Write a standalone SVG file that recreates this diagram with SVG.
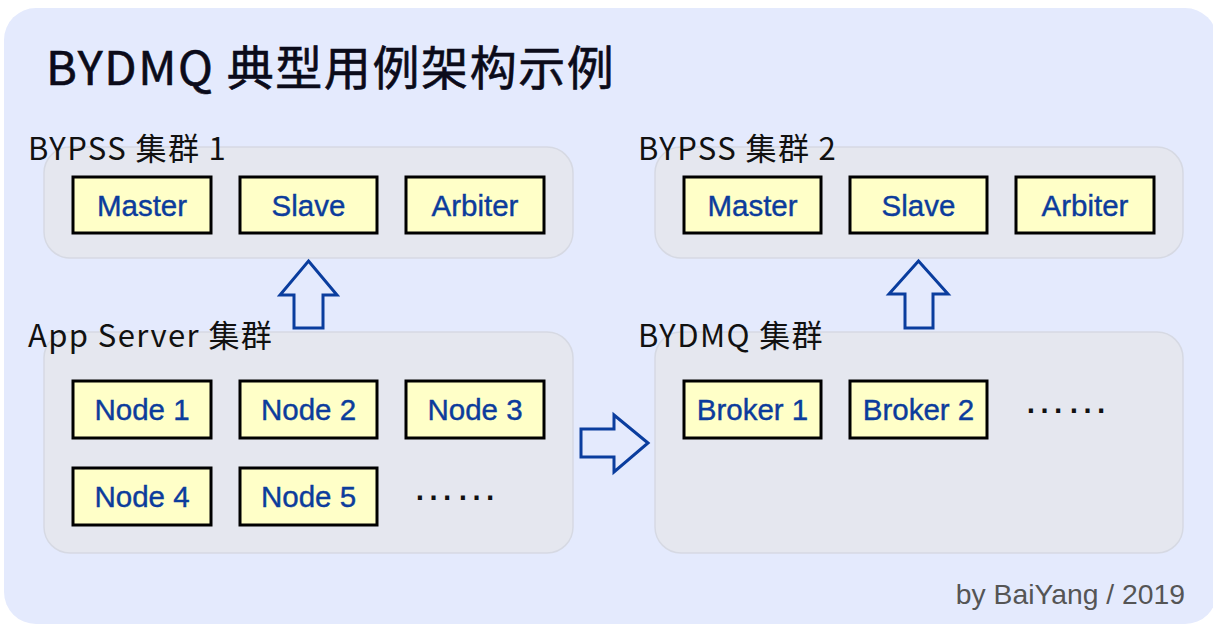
<svg xmlns="http://www.w3.org/2000/svg" width="1213" height="624" viewBox="0 0 1213 624">
<style>
.bg{fill:#e4eafd}
.panel{fill:#e5e7ef;stroke:#d6d9e3;stroke-width:1.5}
.box{fill:#ffffc8;stroke:#000;stroke-width:3}
.bt{font-family:"Liberation Sans",Arial,sans-serif;font-size:29.5px;fill:#0c3c9c;stroke:#0c3c9c;stroke-width:0.4;text-anchor:middle}
.lbl{font-family:"Noto Sans CJK SC","Noto Sans",sans-serif;font-size:31px;fill:#111;letter-spacing:1.4px}
.title{font-family:"Noto Sans CJK SC","Noto Sans",sans-serif;font-size:47px;fill:#0b0b1a;stroke:#0b0b1a;stroke-width:0.6;letter-spacing:1.6px}
.dots{font-family:"Liberation Sans",Arial,sans-serif;font-size:43px;fill:#111}
.arrow{fill:#e4eafd;stroke:#0a3d9e;stroke-width:3;stroke-linejoin:miter}
.foot{font-family:"Liberation Sans",Arial,sans-serif;font-size:28.3px;fill:#555;text-anchor:end}
</style>
<rect class="bg" x="4" y="8" width="1213" height="616" rx="32"/>
<text class="title" x="46" y="85">BYDMQ 典型用例架构示例</text>

<g id="cluster-bypss1">
<rect class="panel" x="44" y="147" width="529" height="111" rx="26"/>
<text class="lbl" x="28" y="160">BYPSS 集群 1</text>
</g>
<g id="cluster-bypss2">
<rect class="panel" x="655" y="147" width="528" height="111" rx="26"/>
<text class="lbl" x="638" y="160">BYPSS 集群 2</text>
</g>
<g id="cluster-app">
<rect class="panel" x="44" y="332" width="529" height="221" rx="26"/>
<text class="lbl" x="28" y="347" letter-spacing="1.8">App Server 集群</text>
</g>
<g id="cluster-bydmq">
<rect class="panel" x="655" y="332" width="528" height="221" rx="26"/>
<text class="lbl" x="638" y="347">BYDMQ 集群</text>
</g>

<g id="b1-master"><rect class="box" x="73" y="177" width="138" height="56"/><text class="bt" x="142" y="216">Master</text></g>
<g id="b1-slave"><rect class="box" x="240" y="177" width="137" height="56"/><text class="bt" x="308.5" y="216">Slave</text></g>
<g id="b1-arbiter"><rect class="box" x="406" y="177" width="138" height="56"/><text class="bt" x="475" y="216">Arbiter</text></g>

<g id="b2-master"><rect class="box" x="684" y="177" width="137" height="56"/><text class="bt" x="752.5" y="216">Master</text></g>
<g id="b2-slave"><rect class="box" x="850" y="177" width="137" height="56"/><text class="bt" x="918.5" y="216">Slave</text></g>
<g id="b2-arbiter"><rect class="box" x="1016" y="177" width="138" height="56"/><text class="bt" x="1085" y="216">Arbiter</text></g>

<g id="node1"><rect class="box" x="73" y="381" width="138" height="57"/><text class="bt" x="142" y="420">Node 1</text></g>
<g id="node2"><rect class="box" x="240" y="381" width="137" height="57"/><text class="bt" x="308.5" y="420">Node 2</text></g>
<g id="node3"><rect class="box" x="406" y="381" width="138" height="57"/><text class="bt" x="475" y="420">Node 3</text></g>
<g id="node4"><rect class="box" x="73" y="468" width="138" height="57"/><text class="bt" x="142" y="507">Node 4</text></g>
<g id="node5"><rect class="box" x="240" y="468" width="137" height="57"/><text class="bt" x="308.5" y="507">Node 5</text></g>
<g id="node-more"><text class="dots" x="412" y="500">……</text></g>

<g id="broker1"><rect class="box" x="684" y="381" width="137" height="57"/><text class="bt" x="752.5" y="420">Broker 1</text></g>
<g id="broker2"><rect class="box" x="850" y="381" width="137" height="57"/><text class="bt" x="918.5" y="420">Broker 2</text></g>
<g id="broker-more"><text class="dots" x="1023" y="413">……</text></g>

<g id="connectors">
<path class="arrow" d="M308.5,261 L337,295 L323,295 L323,328 L294,328 L294,295 L280,295 Z"/>
<path class="arrow" d="M918.5,261 L948,294 L933,294 L933,328 L905,328 L905,294 L889,294 Z"/>
<path class="arrow" d="M648,443 L614,415 L614,429 L581,429 L581,457 L614,457 L614,472 Z"/>
</g>

<text class="foot" x="1185" y="604">by BaiYang / 2019</text>
</svg>
